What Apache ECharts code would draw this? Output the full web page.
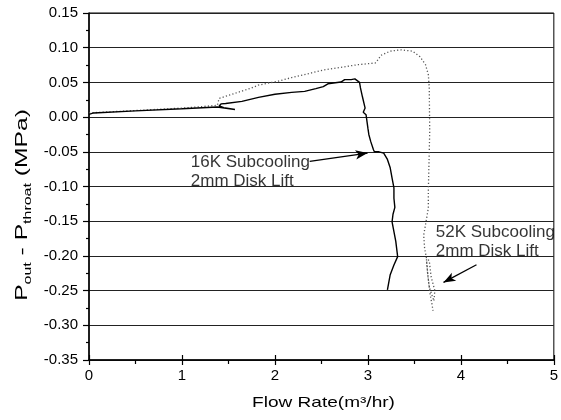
<!DOCTYPE html>
<html>
<head>
<meta charset="utf-8">
<script src="https://cdn.jsdelivr.net/npm/echarts@6/dist/echarts.min.js"></script>
<style>
html,body{margin:0;padding:0;background:#fff;}
#c{width:561px;height:420px;}
</style>
</head>
<body>
<div id="c"></div>
<script>
// ---- data ----
const xRange = [0, 5];
const yRange = [-0.35, 0.15];
const xTickStep = 1;
const yTickStep = 0.05;

// 16K subcooling, 2mm disk lift (solid)
const s16x = [0, 0.05, 0.5, 1.0, 1.38, 1.57, 1.45, 1.40, 1.42, 1.47, 1.645, 1.823, 2.0, 2.18, 2.32, 2.44, 2.52, 2.57, 2.71, 2.75, 2.77, 2.82, 2.86, 2.91, 2.92, 2.94, 2.97, 2.95, 2.98, 3.0, 3.01, 3.03, 3.06, 3.07, 3.12, 3.17, 3.21, 3.24, 3.26, 3.28, 3.28, 3.29, 3.27, 3.26, 3.28, 3.30, 3.32, 3.28, 3.24, 3.21];
const s16y = [0.004, 0.006, 0.009, 0.012, 0.0145, 0.011, 0.0135, 0.016, 0.019, 0.0195, 0.0226, 0.0285, 0.033, 0.0356, 0.037, 0.041, 0.044, 0.048, 0.0505, 0.054, 0.056, 0.054, 0.055, 0.050, 0.042, 0.030, 0.013, 0.007, 0.0035, -0.016, -0.025, -0.035, -0.047, -0.050, -0.050, -0.052, -0.061, -0.073, -0.088, -0.102, -0.117, -0.13, -0.14, -0.151, -0.165, -0.179, -0.201, -0.213, -0.227, -0.249];

// 52K subcooling, 2mm disk lift (dotted)
const s52x = [0, 0.5, 1.0, 1.38, 1.40, 1.47, 1.75, 1.82, 2.04, 2.18, 2.53, 2.89, 3.08, 3.11, 3.14, 3.24, 3.35, 3.48, 3.56, 3.62, 3.65, 3.66, 3.665, 3.66, 3.65, 3.65, 3.62, 3.60, 3.61, 3.63, 3.66, 3.68, 3.72, 3.71, 3.66, 3.64, 3.63, 3.645, 3.67, 3.69, 3.70];
const s52y = [0.006, 0.0095, 0.013, 0.0169, 0.027, 0.030, 0.042, 0.046, 0.052, 0.057, 0.068, 0.0755, 0.078, 0.083, 0.089, 0.095, 0.097, 0.095, 0.087, 0.0755, 0.061, 0.042, -0.021, -0.05, -0.107, -0.131, -0.155, -0.170, -0.189, -0.203, -0.207, -0.23, -0.25, -0.265, -0.245, -0.222, -0.205, -0.228, -0.256, -0.27, -0.279];

// annotations
const annoText = ['16K Subcooling\n2mm Disk Lift', '52K Subcooling\n2mm Disk Lift'];
const annoX = [1.095, 3.73];
const annoY = [-0.079, -0.179];
const arrowFrom = [[2.374, -0.0638], [4.168, -0.2127]];
const arrowTo = [[2.996, -0.0519], [3.813, -0.2382]];

const xTitle = 'Flow Rate(m³/hr)';
const yTitle = '{n|P}{s|out}{n| - P}{s|throat}{n| (MPa)}';
// ---- chart ----
const FONT = '"Liberation Sans", Arial, Helvetica, sans-serif';
const zip = (a, b) => a.map((v, i) => [v, b[i]]);

const chart = echarts.init(document.getElementById('c'), null, {renderer: 'canvas'});
chart.setOption({
  animation: false,
  backgroundColor: '#fff',
  textStyle: {fontFamily: FONT},
  grid: {left: 89, right: 2.5, top: 13, bottom: 60, show: true, borderColor: '#000', borderWidth: 1},
  xAxis: [{
    type: 'value', min: xRange[0], max: xRange[1], interval: xTickStep,
    axisLine: {show: true, onZero: false, lineStyle: {color: '#000', width: 1.5}},
    axisTick: {show: true, inside: false, length: 5, lineStyle: {color: '#000', width: 1.2}},
    minorTick: {show: true, splitNumber: 2, length: 4, lineStyle: {color: '#000', width: 1.2}},
    axisLabel: {fontSize: 15, color: '#000', margin: 8, fontFamily: FONT},
    splitLine: {show: false}
  }, {
    type: 'value', min: xRange[0], max: xRange[1], interval: xTickStep, position: 'bottom',
    axisLine: {show: false, onZero: false},
    axisTick: {show: true, inside: true, length: 5, lineStyle: {color: '#000', width: 1.2}},
    axisLabel: {show: false}, splitLine: {show: false}
  }],
  yAxis: {
    type: 'value', min: yRange[0], max: yRange[1], interval: yTickStep,
    axisLine: {show: true, onZero: false, lineStyle: {color: '#000', width: 1.5}},
    axisTick: {show: true, inside: false, length: 6, lineStyle: {color: '#000', width: 1.2}},
    minorTick: {show: true, splitNumber: 2, length: 3, lineStyle: {color: '#000', width: 1.2}},
    axisLabel: {fontSize: 15, color: '#000', margin: 11, fontFamily: FONT, formatter: v => v.toFixed(2)},
    splitLine: {show: true, lineStyle: {color: '#222', width: 1}}
  },
  graphic: [{
    type: 'text', x: 323.5, y: 403, scaleX: 1.27, silent: true,
    style: {text: xTitle, font: '15px ' + FONT, fill: '#000', align: 'center', verticalAlign: 'middle'}
  }, {
    type: 'text', x: 22, y: 205, rotation: Math.PI / 2, scaleX: 1.45, silent: true,
    style: {
      text: yTitle, fill: '#000', align: 'center', verticalAlign: 'middle',
      rich: {
        n: {fontSize: 17, fontFamily: FONT, fill: '#000', lineHeight: 22, verticalAlign: 'middle'},
        s: {fontSize: 11, fontFamily: FONT, fill: '#000', lineHeight: 22, verticalAlign: 'bottom'}
      }
    }
  }],
  series: [{
    name: '52K Subcooling', type: 'line', data: zip(s52x, s52y), showSymbol: false, symbol: 'none',
    lineStyle: {color: '#555', width: 1.3, type: [1.2, 2.2]},
    markLine: {
      silent: true, symbol: ['none', 'arrow'], symbolSize: [7, 12],
      lineStyle: {color: '#000', width: 1.3, type: 'solid'}, label: {show: false},
      data: [[{coord: arrowFrom[1]}, {coord: arrowTo[1]}]]
    }
  }, {
    name: '16K Subcooling', type: 'line', data: zip(s16x, s16y), showSymbol: false, symbol: 'none',
    lineStyle: {color: '#000', width: 1.4},
    markLine: {
      silent: true, symbol: ['none', 'arrow'], symbolSize: [7, 12],
      lineStyle: {color: '#000', width: 1.3, type: 'solid'}, label: {show: false},
      data: [[{coord: arrowFrom[0]}, {coord: arrowTo[0]}]]
    }
  }, {
    name: 'annotations', type: 'scatter', symbolSize: 0, silent: true,
    data: annoText.map((t, i) => ({name: t, value: [annoX[i], annoY[i]]})),
    label: {
      show: true, position: 'right', distance: 0, formatter: p => p.name,
      fontSize: 17, lineHeight: 19, color: '#000', fontFamily: FONT, align: 'left', verticalAlign: 'middle'
    }
  }]
});
</script>
</body>
</html>
